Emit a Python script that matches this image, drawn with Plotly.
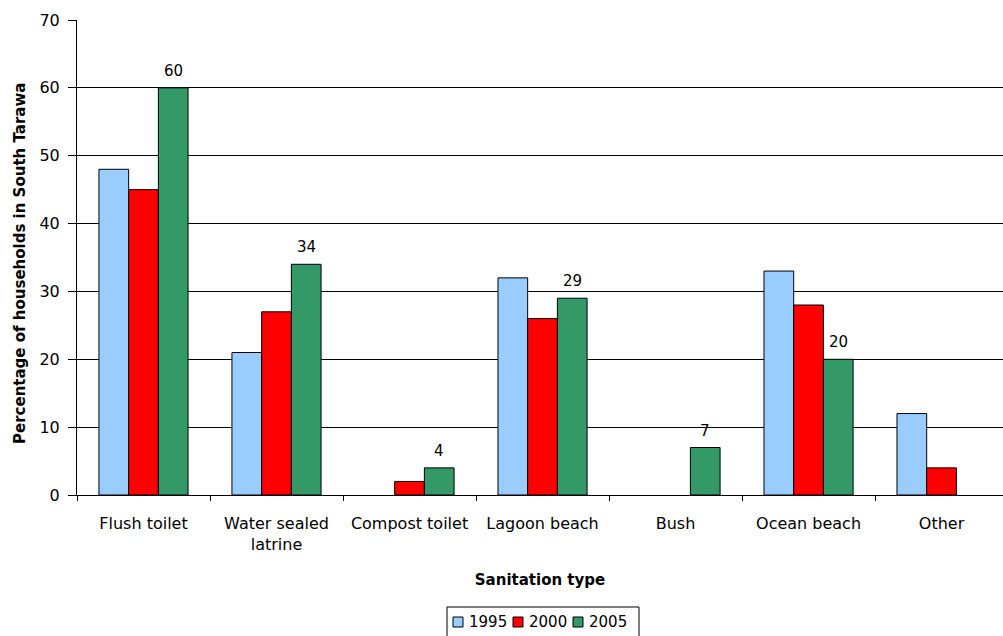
import plotly.graph_objects as go

# Sanitation survey, South Tarawa
categories = ["Flush toilet", "Water sealed<br>latrine", "Compost toilet",
              "Lagoon beach", "Bush", "Ocean beach", "Other"]
years = ["1995", "2000", "2005"]
pct_1995 = [48, 21, None, 32, None, 33, 12]
pct_2000 = [45, 27, 2, 26, None, 28, 4]
pct_2005 = [60, 34, 4, 29, 7, 20, None]
colors = ["#99CCFF", "#FF0000", "#339966"]

series = [pct_1995, pct_2000, pct_2005]

font_family = "DejaVu Sans, Verdana, sans-serif"
BARGAP = 0.33

# figure / plot-area geometry in pixels
W, H = 1003, 636
M_L, M_R, M_T, M_B = 77, 0, 20, 141
PW, PH = W - M_L - M_R, H - M_T - M_B


def px_x(px):
    return (px - M_L) / PW


def px_y(py):
    return (H - M_B - py) / PH


fig = go.Figure()
for name, vals, col in zip(years, series, colors):
    fig.add_trace(go.Bar(
        name=name,
        x=categories,
        y=vals,
        marker=dict(color=col, line=dict(color="#000000", width=1)),
        showlegend=False,
    ))

# value labels above the 2005 bars (third bar of each group)
bar_w = (1 - BARGAP) / len(series)
for i, v in enumerate(pct_2005):
    if v is None:
        continue
    fig.add_annotation(
        x=i + bar_w, y=v, xref="x", yref="y",
        text=str(v), showarrow=False,
        yanchor="bottom", yshift=6,
        font=dict(family=font_family, size=15, color="#000000"),
    )

# y-axis title
fig.add_annotation(
    x=px_x(20), y=px_y(264), xref="paper", yref="paper",
    text="<b>Percentage of households in South Tarawa</b>",
    textangle=-90, showarrow=False,
    xanchor="center", yanchor="middle",
    font=dict(family=font_family, size=15, color="#000000"),
)

# compact boxed legend below the x-axis title
fig.add_shape(
    type="rect", xref="paper", yref="paper",
    x0=px_x(447), x1=px_x(639), y0=px_y(642), y1=px_y(607),
    line=dict(color="#000000", width=1), fillcolor="#FFFFFF", layer="above",
)
LEG_X0, LEG_PITCH, SQ = 453, 60, 10
for k, (name, col) in enumerate(zip(years, colors)):
    sx = LEG_X0 + k * LEG_PITCH
    fig.add_shape(
        type="rect", xref="paper", yref="paper",
        x0=px_x(sx), x1=px_x(sx + SQ), y0=px_y(627), y1=px_y(617),
        line=dict(color="#000000", width=1), fillcolor=col, layer="above",
    )
    fig.add_annotation(
        x=px_x(sx + SQ + 4), y=px_y(622), xref="paper", yref="paper",
        text=name, showarrow=False, xanchor="left", yanchor="middle",
        font=dict(family=font_family, size=15, color="#000000"),
    )

fig.update_layout(
    width=W,
    height=H,
    margin=dict(l=M_L, r=M_R, t=M_T, b=M_B),
    paper_bgcolor="#FFFFFF",
    plot_bgcolor="#FFFFFF",
    barmode="group",
    bargap=BARGAP,
    bargroupgap=0,
    font=dict(family=font_family, size=15, color="#000000"),
    showlegend=False,
    xaxis=dict(
        range=[-0.5, 6.462],
        showline=True, linecolor="#000000", linewidth=1,
        ticks="outside", ticklen=5, tickcolor="#000000",
        tickson="boundaries",
        showgrid=False,
        tickfont=dict(size=16),
        ticklabelstandoff=14,
        title=dict(text="<b>Sanitation type</b>", font=dict(size=15), standoff=21),
    ),
    yaxis=dict(
        range=[0, 70],
        dtick=10,
        showline=True, linecolor="#000000", linewidth=1,
        ticks="outside", ticklen=8, tickcolor="#000000",
        showgrid=True, gridcolor="#000000", gridwidth=1,
        zeroline=False,
        tickfont=dict(size=16),
        ticklabelstandoff=5,
    ),
)

fig.write_html("out.html")
